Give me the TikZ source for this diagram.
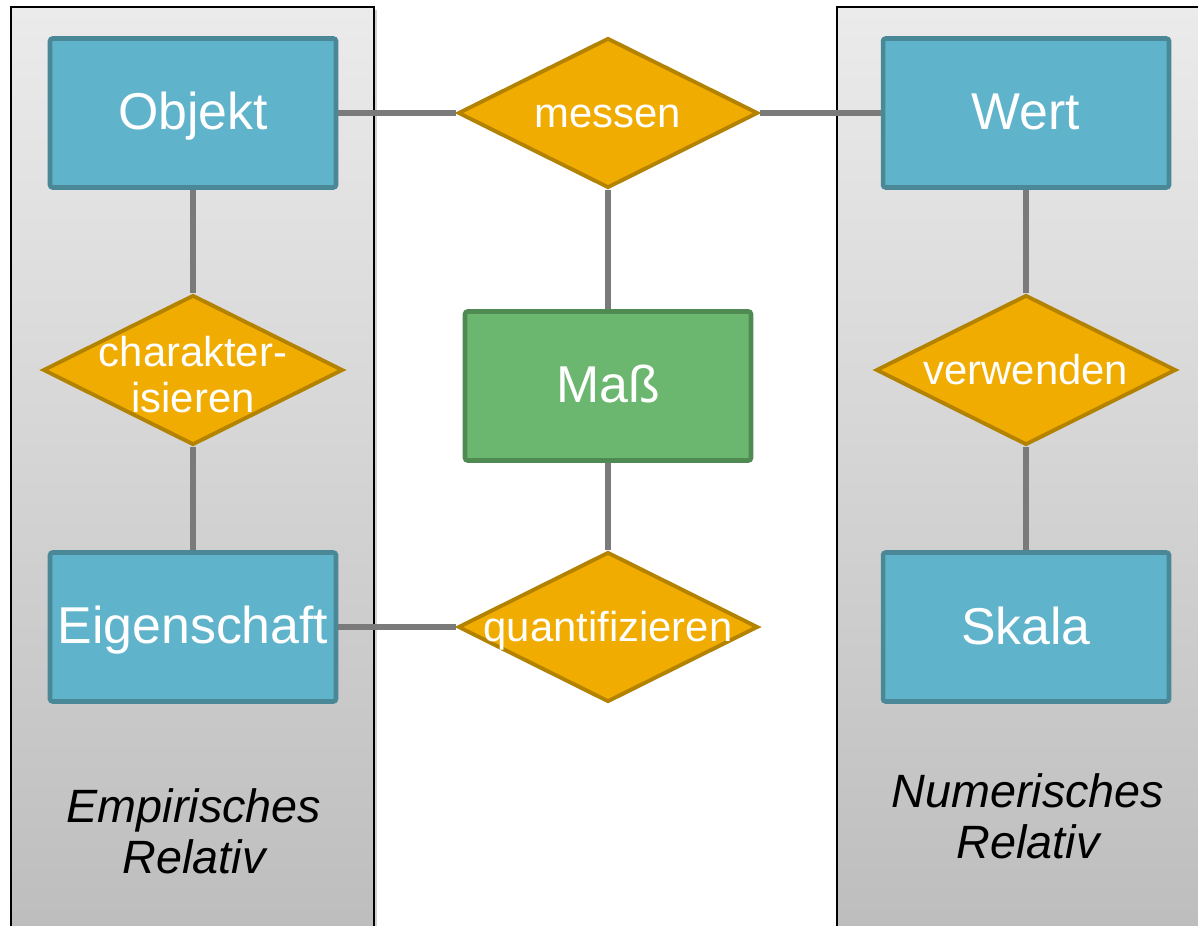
\documentclass[tikz,border=0pt]{standalone}
\usepackage{fontspec}
\setmainfont{Liberation Sans}
\usetikzlibrary{shapes.geometric}
\definecolor{boxfill}{HTML}{5FB3CB}
\definecolor{boxline}{HTML}{4A8797}
\definecolor{greenfill}{HTML}{6BB76F}
\definecolor{greenline}{HTML}{4F8A53}
\definecolor{dfill}{HTML}{F0AC00}
\definecolor{dline}{HTML}{B38200}
\definecolor{conn}{HTML}{7A7A7A}
\definecolor{ptop}{HTML}{EBEBEB}
\definecolor{pbot}{HTML}{BCBCBC}
\newcommand{\dn}[2]{\raisebox{-#1}[\height][\depth]{#2}}
\tikzset{
  entity/.style={draw=boxline, fill=boxfill, line width=2.6pt, rounded corners=1.5pt,
    minimum width=5.72cm, minimum height=2.98cm, inner sep=0pt, text=white,
    font=\fontsize{29.5}{32}\selectfont},
  measure/.style={entity, draw=greenline, fill=greenfill},
  relation/.style={diamond, draw=dline, fill=dfill, line width=2.2pt, inner sep=0pt,
    minimum width=6.0cm, minimum height=3.0cm, text=white,
    font=\fontsize{23.8}{26.2}\selectfont},
  panel/.style={draw=black, line width=0.8pt, top color=ptop, bottom color=pbot},
  conline/.style={draw=conn, line width=3pt},
  plabel/.style={font=\fontsize{26.6}{29}\selectfont\itshape, text=black, align=center, inner sep=0pt}
}
\begin{document}
\begin{tikzpicture}[x=0.02cm, y=-0.02cm]
\clip (0,0) rectangle (1198,926);
\fill[white] (0,0) rectangle (1198,926);
% panels
\fill[gray!35] (14,10) rectangle (377,960);
\fill[gray!35] (840,10) rectangle (1210,960);
\path[panel] (11,7) rectangle (374,960);
\path[panel] (837,7) rectangle (1210,960);
\node[plabel] (emp) at (194,831) {Empirisches\\Relativ};
\node[plabel] (num) at (1028,816) {Numerisches\\Relativ};
% entities
\node[entity] (objekt) at (193,113) {\dn{1.5pt}{Objekt}};
\node[entity] (wert) at (1026,113) {\dn{-0.5pt}{Wert}};
\node[entity] (eigen) at (193,627) {\dn{2pt}{Eigenschaft}};
\node[entity] (skala) at (1026,627) {\dn{-0.5pt}{Skala}};
\node[measure] (mass) at (608,386) {\dn{-1pt}{Maß}};
% relations
\node[relation] (messen) at (608,113) {\makebox[0pt]{\dn{2pt}{messen}}};
\node[relation] (char) at (193,370) {\makebox[0pt]{\dn{6pt}{\begin{tabular}{@{}c@{}}charakter-\\isieren\end{tabular}}}};
\node[relation] (verw) at (1026,370) {\makebox[0pt]{verwenden}};
\node[relation] (quant) at (608,627) {\makebox[0pt]{\dn{2pt}{quantifizieren}}};
% connectors
\draw[conline] (objekt) -- (messen);
\draw[conline] (messen) -- (wert);
\draw[conline] (messen) -- (mass);
\draw[conline] (mass) -- (quant);
\draw[conline] (eigen) -- (quant);
\draw[conline] (objekt) -- (char);
\draw[conline] (char) -- (eigen);
\draw[conline] (wert) -- (verw);
\draw[conline] (verw) -- (skala);
\end{tikzpicture}
\end{document}
